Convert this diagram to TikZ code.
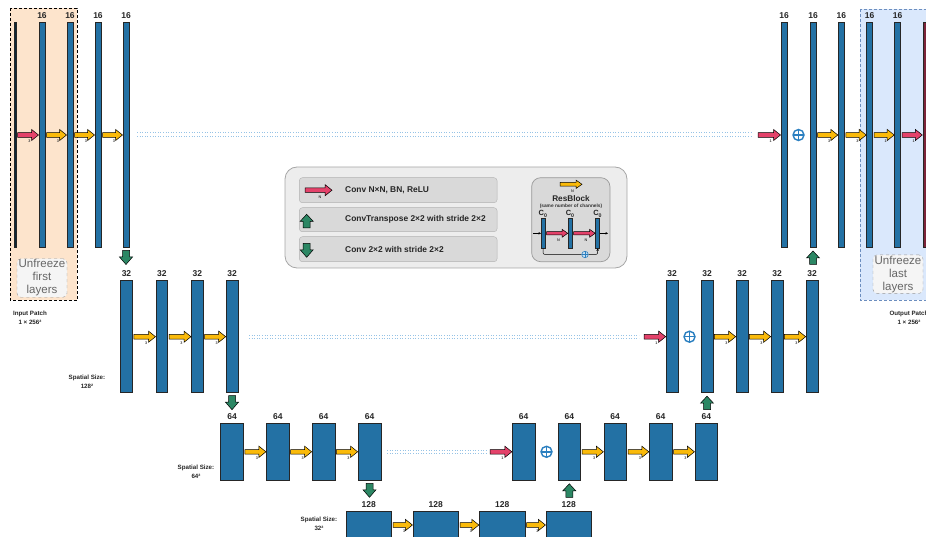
\documentclass[tikz,border=0pt]{standalone}
\usepackage{fontspec}
\setmainfont{Liberation Sans}
\usetikzlibrary{calc,arrows.meta}
\definecolor{barblue}{RGB}{35,113,164}
\definecolor{pinkc}{RGB}{228,66,106}
\definecolor{yelc}{RGB}{250,186,10}
\definecolor{grnc}{RGB}{44,135,100}
\definecolor{oplusc}{RGB}{42,127,192}
\definecolor{skipc}{RGB}{150,195,230}
\definecolor{orangebg}{RGB}{253,228,204}
\definecolor{bluebg}{RGB}{218,232,252}
\definecolor{bluedash}{RGB}{108,142,191}
\newdimen\ahs \newdimen\ahH \newdimen\ahL
\ahs=2.3pt \ahH=5.6pt \ahL=7pt
\tikzset{
 bar/.style={draw=black!85, line width=0.6pt, fill=barblue, inner sep=0pt, outer sep=0pt},
 topbar/.style={bar, minimum width=6pt, minimum height=225pt},
 ltwobar/.style={bar, minimum width=11.6pt, minimum height=112pt},
 lthreebar/.style={bar, minimum width=22.7pt, minimum height=57pt},
 lfourbar/.style={bar, minimum width=45.7pt, minimum height=26.6pt},
 rbar/.style={bar, line width=0.5pt, minimum width=4pt, minimum height=30pt},
 lbl/.style={font=\fontsize{8.5}{9}\selectfont\bfseries, text=black!85, inner sep=0pt},
 ch/.style={label={[lbl, label distance=3.5pt]above:#1}},
 cz/.style={label={[font=\fontsize{7.5}{8}\selectfont\bfseries, text=black!85, inner sep=0pt, label distance=1pt]above:C\textsubscript{0}}},
 tinylbl/.style={font=\fontsize{3.8}{4}\selectfont\bfseries, text=black!75, inner sep=0pt},
 blockarrow/.style={draw=black, line width=0.5pt, line join=miter},
 skipline/.style={draw=skipc, dotted, line width=0.6pt},
 oplus/.style={circle, draw=oplusc, line width=1.4pt, minimum size=11pt, inner sep=0pt,
   path picture={\draw[oplusc, line width=1.4pt] (path picture bounding box.north) -- (path picture bounding box.south) (path picture bounding box.west) -- (path picture bounding box.east);}},
 roplus/.style={circle, draw=oplusc, fill=oplusc!25, line width=0.6pt, minimum size=6.5pt, inner sep=0pt,
   path picture={\draw[oplusc, line width=0.6pt] (path picture bounding box.north) -- (path picture bounding box.south) (path picture bounding box.west) -- (path picture bounding box.east);}},
 unf/.style={draw=black!40, dashed, fill=black!4, rounded corners=4pt, minimum width=50pt, minimum height=38.5pt, align=center, font=\fontsize{11.5}{13}\selectfont, text=black!60, inner sep=0pt},
 sizetxt/.style={font=\fontsize{6.2}{9}\selectfont\bfseries, align=center, inner sep=0pt, text=black!85},
 legrow/.style={draw=black!30, fill=black!15, rounded corners=3pt, minimum width=197.7pt, inner sep=0pt},
 legtxt/.style={font=\fontsize{8.4}{9}\selectfont\bfseries, anchor=west, inner sep=0pt, text=black!85},
 thinarrow/.style={line width=0.5pt, -{Stealth[length=2.5pt,width=2.5pt]}},
}
\newcommand\fatarrow[4]{%
 \draw[blockarrow, fill=#1] let \p1=(#2), \p2=(#3) in
 (\x1+1.5pt,\y2+\ahs) -- (\x2-0.5pt-\ahL,\y2+\ahs) -- (\x2-0.5pt-\ahL,\y2+\ahH) -- (\x2-0.5pt,\y2)
 -- (\x2-0.5pt-\ahL,\y2-\ahH) -- (\x2-0.5pt-\ahL,\y2-\ahs) -- (\x1+1.5pt,\y2-\ahs) -- cycle
 node[tinylbl] at (\x1+1.5pt+0.52*\x2-0.52*\x1, \y2-6.5pt) {#4};}
\newcommand\gdown[1]{%
 \draw[blockarrow, fill=grnc] let \p1=(#1) in
 (\x1-3.5pt,\y1-3pt) -- (\x1+3.5pt,\y1-3pt) -- (\x1+3.5pt,\y1-9.5pt) -- (\x1+6.5pt,\y1-9.5pt)
 -- (\x1,\y1-17pt) -- (\x1-6.5pt,\y1-9.5pt) -- (\x1-3.5pt,\y1-9.5pt) -- cycle;}
\newcommand\gup[1]{%
 \draw[blockarrow, fill=grnc] let \p1=(#1) in
 (\x1,\y1-3.5pt) -- (\x1+6.5pt,\y1-10.5pt) -- (\x1+3.5pt,\y1-10.5pt) -- (\x1+3.5pt,\y1-17pt)
 -- (\x1-3.5pt,\y1-17pt) -- (\x1-3.5pt,\y1-10.5pt) -- (\x1-6.5pt,\y1-10.5pt) -- cycle;}
\begin{document}
\begin{tikzpicture}[x=1pt,y=1pt]
\useasboundingbox (0,0) rectangle (926,-537);

% ---- unfreeze regions
\draw[dash pattern=on 3pt off 2pt, line width=0.9pt, fill=orangebg] (10,-8.5) rectangle (77,-300);
\node[unf] (uf1) at (42,-278) {Unfreeze\\first\\layers};
\draw[draw=bluedash, dash pattern=on 3pt off 2pt, line width=0.9pt, fill=bluebg] (860,-9) rectangle (935,-300);
\node[unf] (uf2) at (898,-274.2) {Unfreeze\\last\\layers};

% ---- level 1 (16)
\node[topbar, minimum width=2pt, fill=barblue!35!black] (in) at (15.2,-135) {};
\node[topbar, ch=16] (e1) at (42,-135) {};
\node[topbar, ch=16] (e2) at (70,-135) {};
\node[topbar, ch=16] (e3) at (98,-135) {};
\node[topbar, ch=16] (e4) at (126,-135) {};
\node[topbar, ch=16] (d1) at (784,-135) {};
\node[topbar, ch=16] (d2) at (813,-135) {};
\node[topbar, ch=16] (d3) at (841.3,-135) {};
\node[topbar, ch=16] (d4) at (869.7,-135) {};
\node[topbar, ch=16] (d5) at (897.7,-135) {};
\node[topbar, minimum width=3pt, fill=pinkc!55!black] (dr) at (924.3,-135) {};

% ---- level 2 (32)
\node[ltwobar, ch=32] (f1) at (126.5,-336.7) {};
\node[ltwobar, ch=32] (f2) at (161.8,-336.7) {};
\node[ltwobar, ch=32] (f3) at (197.3,-336.7) {};
\node[ltwobar, ch=32] (f4) at (232,-336.7) {};
\node[ltwobar, ch=32] (g1) at (672,-336.7) {};
\node[ltwobar, ch=32] (g2) at (707,-336.7) {};
\node[ltwobar, ch=32] (g3) at (742,-336.7) {};
\node[ltwobar, ch=32] (g4) at (777,-336.7) {};
\node[ltwobar, ch=32] (g5) at (812,-336.7) {};

% ---- level 3 (64)
\node[lthreebar, ch=64] (h1) at (232,-451.8) {};
\node[lthreebar, ch=64] (h2) at (277.8,-451.8) {};
\node[lthreebar, ch=64] (h3) at (323.5,-451.8) {};
\node[lthreebar, ch=64] (h4) at (369.5,-451.8) {};
\node[lthreebar, ch=64] (i1) at (523.7,-451.8) {};
\node[lthreebar, ch=64] (i2) at (569.3,-451.8) {};
\node[lthreebar, ch=64] (i3) at (615.2,-451.8) {};
\node[lthreebar, ch=64] (i4) at (660.7,-451.8) {};
\node[lthreebar, ch=64] (i5) at (706.3,-451.8) {};

% ---- level 4 (128)
\node[lfourbar, ch=128] (j1) at (368.8,-525) {};
\node[lfourbar, ch=128] (j2) at (435.8,-525) {};
\node[lfourbar, ch=128] (j3) at (502.2,-525) {};
\node[lfourbar, ch=128] (j4) at (568.8,-525) {};

% ---- skip connections
\coordinate (s1a) at (137,-132.4); \coordinate (s1b) at (752,-132.4);
\coordinate (s1c) at (137,-136);   \coordinate (s1d) at (752,-136);
\draw[skipline] (s1a) -- (s1b); \draw[skipline] (s1c) -- (s1d);
\coordinate (s2a) at (249,-334.9); \coordinate (s2b) at (639,-334.9);
\coordinate (s2c) at (249,-338.5); \coordinate (s2d) at (639,-338.5);
\draw[skipline] (s2a) -- (s2b); \draw[skipline] (s2c) -- (s2d);
\coordinate (s3a) at (387,-450); \coordinate (s3b) at (488,-450);
\coordinate (s3c) at (387,-453.3); \coordinate (s3d) at (488,-453.3);
\draw[skipline] (s3a) -- (s3b); \draw[skipline] (s3c) -- (s3d);
\coordinate (sk1) at (756.5,-134); \coordinate (sk2) at (642.5,-336.7); \coordinate (sk3) at (488.5,-451.5);

% ---- horizontal arrows
\fatarrow{pinkc}{in.east}{e1.west}{3}
\fatarrow{yelc}{e1.east}{e2.west}{3}
\fatarrow{yelc}{e2.east}{e3.west}{3}
\fatarrow{yelc}{e3.east}{e4.west}{3}
\fatarrow{yelc}{f1.east}{f2.west}{3}
\fatarrow{yelc}{f2.east}{f3.west}{3}
\fatarrow{yelc}{f3.east}{f4.west}{3}
\fatarrow{yelc}{h1.east}{h2.west}{3}
\fatarrow{yelc}{h2.east}{h3.west}{3}
\fatarrow{yelc}{h3.east}{h4.west}{3}
\fatarrow{yelc}{j1.east}{j2.west}{3}
\fatarrow{yelc}{j2.east}{j3.west}{3}
\fatarrow{yelc}{j3.east}{j4.west}{3}
\fatarrow{pinkc}{sk3}{i1.west}{1}
\fatarrow{yelc}{i2.east}{i3.west}{3}
\fatarrow{yelc}{i3.east}{i4.west}{3}
\fatarrow{yelc}{i4.east}{i5.west}{3}
\fatarrow{pinkc}{sk2}{g1.west}{1}
\fatarrow{yelc}{g2.east}{g3.west}{3}
\fatarrow{yelc}{g3.east}{g4.west}{3}
\fatarrow{yelc}{g4.east}{g5.west}{3}
\fatarrow{pinkc}{sk1}{d1.west}{1}
\fatarrow{yelc}{d2.east}{d3.west}{3}
\fatarrow{yelc}{d3.east}{d4.west}{3}
\fatarrow{yelc}{d4.east}{d5.west}{1}
\fatarrow{pinkc}{d5.east}{dr.west}{1}

% ---- sums
\node[oplus] (p1) at ($(d1.east)!0.5!(d2.west)$) {};
\node[oplus] (p2) at ($(g1.east)!0.5!(g2.west)$) {};
\node[oplus] (p3) at ($(i1.east)!0.5!(i2.west)$) {};

% ---- vertical arrows
\gdown{e4.south}
\gdown{f4.south}
\gdown{h4.south}
\gup{i2.south}
\gup{g2.south}
\gup{d2.south}

% ---- size texts
\node[sizetxt] (tin) at (30,-317.8) {Input Patch\\1 × 256²};
\node[sizetxt] (tout) at (909,-317.8) {Output Patch\\1 × 256²};
\node[sizetxt] (t2) at (87,-382.2) {Spatial Size:\\128²};
\node[sizetxt] (t3) at (196,-471.4) {Spatial Size:\\64²};
\node[sizetxt] (t4) at (319,-523.9) {Spatial Size:\\32²};

% ---- legend
\node[draw=black!35, fill=black!7, rounded corners=12pt, minimum width=342pt, minimum height=101pt, line width=0.8pt, inner sep=0pt] (leg) at (456,-217.5) {};
\node[legrow, minimum height=25pt] (lr1) at (398.2,-190.2) {};
\node[legrow, minimum height=24pt] (lr2) at (398.2,-219.7) {};
\node[legrow, minimum height=25pt] (lr3) at (398.2,-249.2) {};
\coordinate (la1) at (303.5,-190.2); \coordinate (la2) at (332.5,-190.2);
\fatarrow{pinkc}{la1}{la2}{N}
\coordinate (lg2) at (306.7,-210.8);
\gup{lg2}
\coordinate (lg3) at (306.7,-240.3);
\gdown{lg3}
\node[legtxt] (lt1) at (345,-190.2) {Conv N×N, BN, ReLU};
\node[legtxt] (lt2) at (345,-219.7) {ConvTranspose 2×2 with stride 2×2};
\node[legtxt] (lt3) at (345,-249.2) {Conv 2×2 with stride 2×2};

% ---- resblock legend
\node[draw=black!40, fill=black!15, rounded corners=9pt, minimum width=78.3pt, minimum height=84pt, line width=0.7pt, inner sep=0pt] (rb) at (570.8,-219.7) {};
\begin{scope}
\ahs=1.9pt \ahH=4.2pt \ahL=6pt
\coordinate (ry1) at (558.5,-184.3); \coordinate (ry2) at (582.5,-184.3);
\fatarrow{yelc}{ry1}{ry2}{N}
\end{scope}
\node[font=\fontsize{8.2}{9}\selectfont\bfseries, text=black!85, inner sep=0pt] (rbt) at (571,-198.5) {ResBlock};
\node[font=\fontsize{4.8}{5}\selectfont\bfseries, text=black!80, inner sep=0pt] (rbs) at (571,-206.2) {(same number of channels)};
\node[rbar, cz] (r1) at (543,-233.3) {};
\node[rbar, cz] (r2) at (570.2,-233.3) {};
\node[rbar, cz] (r3) at (597.7,-233.3) {};
\begin{scope}
\ahs=1.7pt \ahH=3.9pt \ahL=5.5pt
\fatarrow{pinkc}{r1.east}{r2.west}{N}
\fatarrow{pinkc}{r2.east}{r3.west}{N}
\end{scope}
\coordinate (rin) at (533,-233.3); \coordinate (rout) at (608,-233.3);
\draw[thinarrow] (rin) -- (r1.west);
\draw[thinarrow] (r3.east) -- (rout);
\node[roplus] (rp) at (585,-254.5) {};
\draw[line width=0.5pt, rounded corners=2pt] (r1.south) |- (rp.west);
\draw[thinarrow, rounded corners=2pt] (rp.east) -| (r3.south);
\end{tikzpicture}
\end{document}
